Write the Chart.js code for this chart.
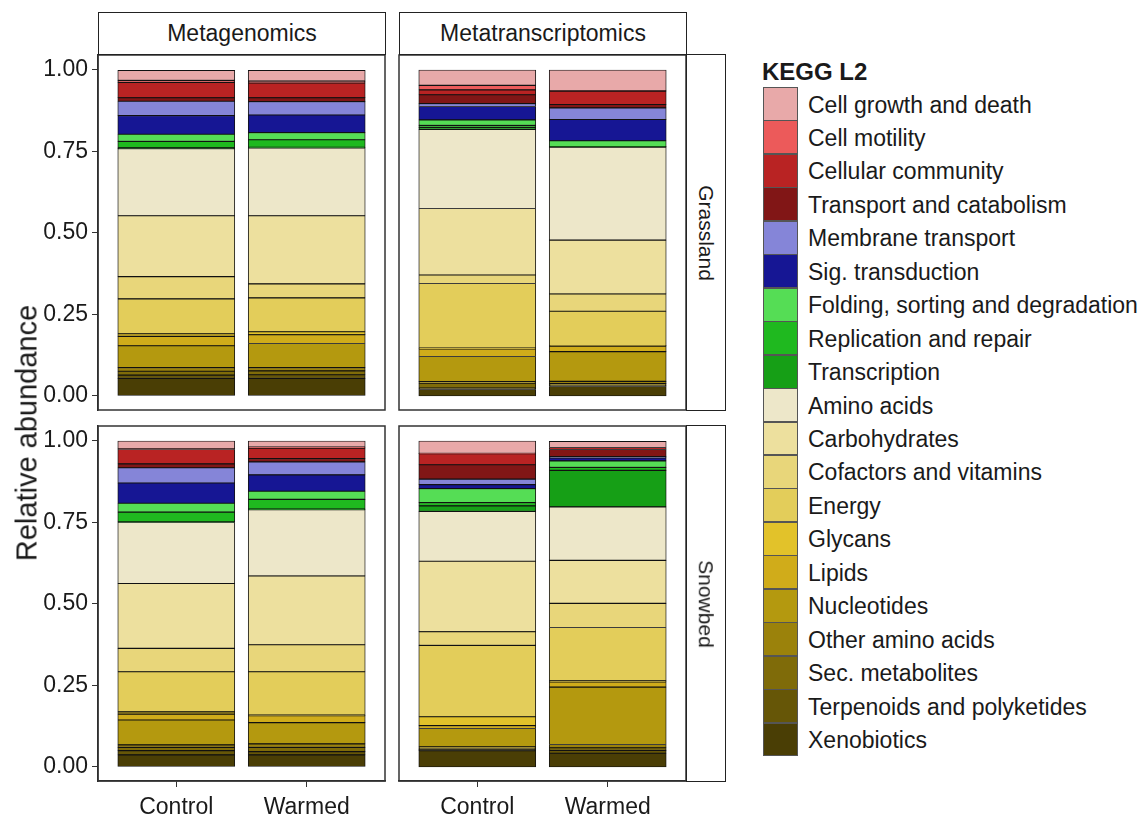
<!DOCTYPE html>
<html>
<head>
<meta charset="utf-8">
<script src="https://cdn.jsdelivr.net/npm/chart.js@4.4.1/dist/chart.umd.min.js"></script>
<style>
  body { margin: 0; width: 1143px; height: 817px; background: #fff; position: relative; overflow: hidden;
         font-family: "Liberation Sans", Arial, sans-serif; color: #1a1a1a; }
  canvas { position: absolute; }
  .strip { position: absolute; box-sizing: border-box; border: 1.5px solid #222; background: #fff;
           display: flex; align-items: center; justify-content: center; font-size: 23px; }
  .strip.side span { transform: rotate(90deg); white-space: nowrap; font-size: 21px; }
  .ytitle { position: absolute; left: 27px; top: 433px; transform: translate(-50%, -50%) rotate(-90deg);
            font-size: 29px; white-space: nowrap; }
  .ltitle { position: absolute; left: 762px; top: 58px; font-size: 24px; font-weight: bold; }
  .key { position: absolute; left: 763px; width: 35px; box-sizing: border-box; border: 1.5px solid #555; }
  .lab { position: absolute; left: 808px; font-size: 23px; white-space: nowrap; }
</style>
</head>
<body>
<canvas id="tl" width="386" height="357" style="left:0;top:54px"></canvas>
<canvas id="tr" width="289" height="357" style="left:398px;top:54px"></canvas>
<canvas id="bl" width="386" height="392" style="left:0;top:425px"></canvas>
<canvas id="br" width="289" height="392" style="left:398px;top:425px"></canvas>

<div class="strip" style="left:98px;top:12px;width:288px;height:43px">Metagenomics</div>
<div class="strip" style="left:399px;top:12px;width:288px;height:43px">Metatranscriptomics</div>
<div class="strip side" style="left:686px;top:54px;width:40px;height:357px"><span>Grassland</span></div>
<div class="strip side" style="left:686px;top:425px;width:40px;height:357px"><span>Snowbed</span></div>
<div class="ytitle">Relative abundance</div>
<div class="ltitle">KEGG L2</div>
<div id="legend"></div>

<script>
// KEGG level-2 categories, legend order (top of stack first)
const categories = [
  "Cell growth and death", "Cell motility", "Cellular community", "Transport and catabolism",
  "Membrane transport", "Sig. transduction", "Folding, sorting and degradation",
  "Replication and repair", "Transcription", "Amino acids", "Carbohydrates",
  "Cofactors and vitamins", "Energy", "Glycans", "Lipids", "Nucleotides",
  "Other amino acids", "Sec. metabolites", "Terpenoids and polyketides", "Xenobiotics"
];
const colors = [
  "#E8A9A9", "#EC5A5A", "#B92323", "#811616", "#8585D8", "#161694", "#55DD55",
  "#1FB91F", "#169F16", "#EDE7C9", "#EDE09E", "#E8D67A", "#E3CD5A", "#E2C22A",
  "#D0AC1A", "#B4990F", "#9B820B", "#7F6B09", "#665607", "#4A3E05"
];
const groups = ["Control", "Warmed"];
const yTicks = [0, 0.25, 0.5, 0.75, 1];

// relative abundance per category (same order as categories)
const mgGrassControl = [0.031, 0.006, 0.047, 0.011, 0.044, 0.057, 0.022, 0.020, 0.002, 0.206,
                        0.187, 0.068, 0.107, 0.008, 0.029, 0.067, 0.011, 0.012, 0.010, 0.054];
const mgGrassWarmed  = [0.033, 0.006, 0.045, 0.012, 0.041, 0.054, 0.022, 0.023, 0.002, 0.208,
                        0.209, 0.043, 0.104, 0.009, 0.027, 0.074, 0.010, 0.012, 0.011, 0.054];
const mtGrassControl = [0.047, 0.014, 0.015, 0.027, 0.009, 0.041, 0.017, 0.006, 0.006, 0.243,
                        0.204, 0.026, 0.198, 0.003, 0.023, 0.077, 0.005, 0.015, 0.004, 0.020];
const mtGrassWarmed  = [0.064, 0.001, 0.041, 0.010, 0.036, 0.065, 0.018, 0.001, 0.001, 0.285,
                        0.165, 0.053, 0.105, 0.002, 0.017, 0.091, 0.007, 0.005, 0.004, 0.029];
const mgSnowControl  = [0.024, 0.002, 0.044, 0.012, 0.047, 0.062, 0.027, 0.030, 0.002, 0.187,
                        0.199, 0.072, 0.123, 0.007, 0.018, 0.076, 0.008, 0.010, 0.013, 0.037];
const mgSnowWarmed   = [0.019, 0.003, 0.032, 0.010, 0.040, 0.050, 0.025, 0.030, 0.002, 0.203,
                        0.211, 0.083, 0.133, 0.002, 0.021, 0.065, 0.011, 0.013, 0.010, 0.037];
const mtSnowControl  = [0.038, 0.001, 0.034, 0.044, 0.017, 0.012, 0.043, 0.010, 0.017, 0.153,
                        0.216, 0.042, 0.219, 0.027, 0.009, 0.056, 0.004, 0.004, 0.004, 0.050];
const mtSnowWarmed   = [0.019, 0.000, 0.006, 0.022, 0.004, 0.009, 0.020, 0.009, 0.112, 0.164,
                        0.132, 0.074, 0.164, 0.003, 0.016, 0.176, 0.010, 0.008, 0.009, 0.042];

const font = { family: "'Liberation Sans', Arial, sans-serif", size: 23 };

// panel outline, like the ggplot panel border
const framePlugin = {
  id: "frame",
  afterDraw(chart) {
    const { ctx, chartArea: a } = chart;
    ctx.save();
    ctx.strokeStyle = "#333";
    ctx.lineWidth = 1.5;
    ctx.strokeRect(a.left, a.top, a.right - a.left, a.bottom - a.top);
    ctx.restore();
  }
};

function drawPanel(id, control, warmed, showY, showX) {
  const datasets = categories.map((name, i) => ({
    label: name,
    data: [{ x: 1, y: control[i] }, { x: 2, y: warmed[i] }],
    backgroundColor: colors[i],
    borderColor: "#111",
    borderWidth: 0.9,
    borderSkipped: false,
    stack: "kegg",
    barThickness: 117
  })).reverse(); // Xenobiotics at the bottom of the stack

  new Chart(document.getElementById(id), {
    type: "bar",
    data: { datasets: datasets },
    plugins: [framePlugin],
    options: {
      responsive: false,
      animation: false,
      layout: { padding: { top: 1, bottom: showX ? 0 : 1, left: showY ? 0 : 1, right: 1 } },
      plugins: { legend: { display: false }, tooltip: { enabled: false } },
      scales: {
        x: {
          type: "linear",
          offset: false,
          min: 0.4,
          max: 2.6,
          display: showX,
          afterBuildTicks: s => { s.ticks = [{ value: 1 }, { value: 2 }]; },
          afterFit: s => {
            if (showX) s.height = 36;
            s.paddingLeft = 0; s.paddingRight = 0;
          },
          ticks: { font: font, color: "#1a1a1a", padding: 7, maxRotation: 0,
                   callback: v => groups[v - 1] },
          grid: { offset: false, drawOnChartArea: false, tickLength: 6, color: "#333" },
          border: { color: "#222", width: 1.5 }
        },
        y: {
          stacked: true,
          min: -0.043,
          max: 1.046,
          display: showY,
          afterBuildTicks: s => { s.ticks = yTicks.map(v => ({ value: v })); },
          afterFit: s => {
            if (showY) s.width = 98;
            s.paddingTop = 0; s.paddingBottom = 0;
          },
          ticks: { font: font, color: "#1a1a1a", padding: 4,
                   callback: v => Number(v).toFixed(2) },
          grid: { drawOnChartArea: false, tickLength: 6, color: "#333" },
          border: { color: "#222", width: 1.5 }
        }
      }
    }
  });
}

drawPanel("tl", mgGrassControl, mgGrassWarmed, true, false);
drawPanel("tr", mtGrassControl, mtGrassWarmed, false, false);
drawPanel("bl", mgSnowControl, mgSnowWarmed, true, true);
drawPanel("br", mtSnowControl, mtSnowWarmed, false, true);

// legend
const legend = document.getElementById("legend");
const rowH = 33.45;
categories.forEach((name, i) => {
  const top = 87 + i * rowH;
  const key = document.createElement("div");
  key.className = "key";
  key.style.top = top + "px";
  key.style.height = (rowH + 0.5) + "px";
  key.style.background = colors[i];
  legend.appendChild(key);

  const lab = document.createElement("div");
  lab.className = "lab";
  lab.style.top = (top + 1.5) + "px";
  lab.style.lineHeight = rowH + "px";
  lab.textContent = name;
  legend.appendChild(lab);
});
</script>
</body>
</html>
